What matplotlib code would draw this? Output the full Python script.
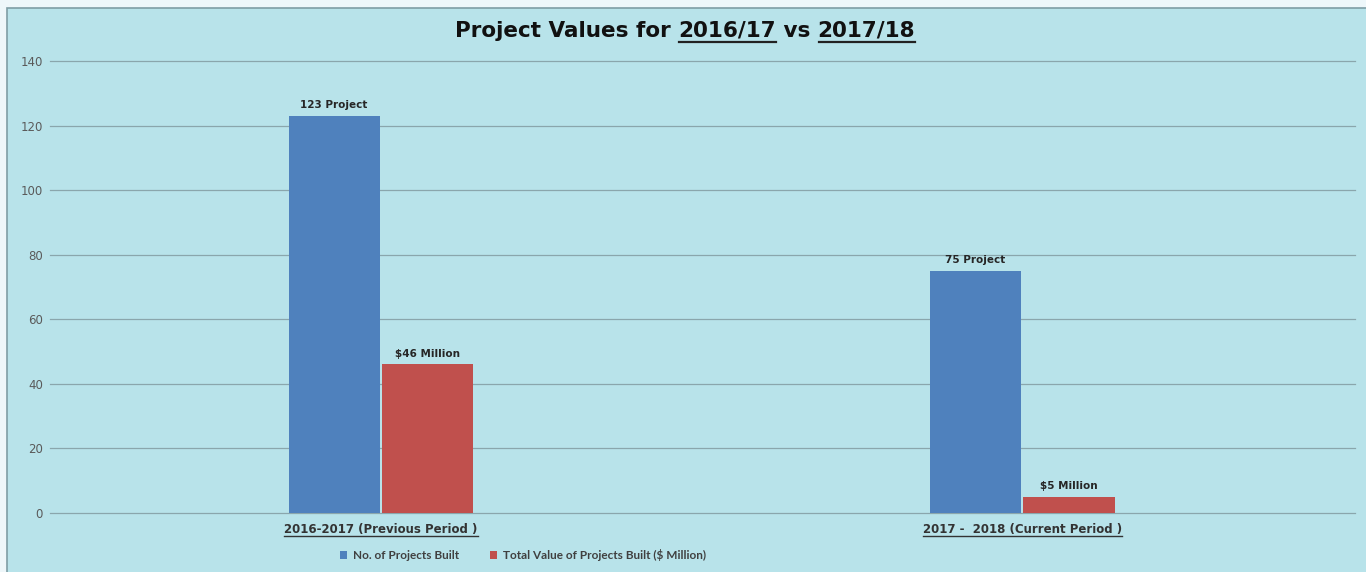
import matplotlib
matplotlib.use("Agg")
import matplotlib.pyplot as plt
from matplotlib.patches import Rectangle
from matplotlib.lines import Line2D
import numpy as np

plt.rcParams['font.family'] = ['DejaVu Sans']

# data
periods = ["2016-2017 (Previous Period )", "2017 -  2018 (Current Period )"]
projects_built = [123, 75]
value_musd = [46, 5]
project_labels = ["123 Project", "75 Project"]
value_labels = [r"\$46 Million", r"\$5 Million"]
series_names = ["No. of Projects Built", "Total Value of Projects Built ($ Million)"]

blue = "#4f81bd"
red = "#c0504d"
bg = "#b8e3ea"
W, H = 1366, 572

fig = plt.figure(figsize=(13.66, 5.72), dpi=100)
fig.patch.set_facecolor("#eef7fa")
# chart area panel behind everything
fig.patches.append(Rectangle((7 / W, -0.01), 1.01 - 7 / W, 1.01 - 8 / H,
                             transform=fig.transFigure, facecolor=bg,
                             edgecolor="#7f9ea5", linewidth=1.2, zorder=-5))

ax = fig.add_axes([50 / W, 59 / H, 1305 / W, 452 / H])
ax.set_facecolor("none")

x = np.arange(len(periods))
w = 0.142
b1 = ax.bar(x - 0.073, projects_built, w, color=blue, label=series_names[0], zorder=3)
b2 = ax.bar(x + 0.073, value_musd, w, color=red, label=series_names[1], zorder=3)

for bars, labs in [(b1, project_labels), (b2, value_labels)]:
    for rect, lab in zip(bars, labs):
        ax.annotate(lab, (rect.get_x() + rect.get_width() / 2, rect.get_height()),
                    xytext=(0, 4), textcoords="offset points", ha="center", va="bottom",
                    fontsize=7.5, fontweight="bold", color="#262626")

ax.set_ylim(0, 140)
ax.set_yticks(range(0, 141, 20))
ax.set_xlim(-0.516, 1.519)
ax.set_xticks(x)
ax.set_xticklabels(periods, fontsize=8.5, fontweight="bold", color="#333333")
ax.tick_params(axis="both", length=0)
ax.tick_params(axis="y", labelsize=8.5, labelcolor="#5a5a5a", pad=5)
ax.tick_params(axis="x", pad=7)
ax.grid(axis="y", color="#8aa6ac", linewidth=0.9, zorder=1)
for gl in ax.get_ygridlines():
    gl.set_clip_on(False)
for s in ax.spines.values():
    s.set_visible(False)

ax.legend(loc="center", bbox_to_anchor=(523 / W, 17 / H), bbox_transform=fig.transFigure,
          ncol=2, frameon=False, handlelength=0.6, handleheight=0.6, handletextpad=0.5,
          columnspacing=2.6, prop={"family": "Lato", "weight": "bold", "size": 8.5},
          labelcolor="#404040")

# title built from pieces so that the years can be underlined
pieces = [("Project Values for ", False), ("2016/17", True), (" vs ", False), ("2017/18", True)]
fig.canvas.draw()
r = fig.canvas.get_renderer()
base_y = H - 37
texts = []
for s, u in pieces:
    t = fig.text(0, base_y / H, s, fontsize=15.5, fontweight="bold", color="#111111",
                 va="baseline", ha="left")
    texts.append((t, u))
widths = [t.get_window_extent(r).width for t, _ in texts]
total = sum(widths)
start = 685 - total / 2
for (t, u), wd in zip(texts, widths):
    t.set_x(start / W)
    start += wd

def hline(x0, x1, y, lw, color):
    fig.lines.append(Line2D([x0 / W, x1 / W], [y / H, y / H], transform=fig.transFigure,
                            color=color, linewidth=lw))

fig.canvas.draw()
for t, u in texts:
    if u:
        bb = t.get_window_extent(r)
        hline(bb.x0 + 1, bb.x1, base_y - 5, 1.6, "#222222")
for lab in ax.get_xticklabels():
    bb = lab.get_window_extent(r)
    hline(bb.x0, bb.x1, bb.y0 - 0.5, 1.0, "#333333")

fig.savefig("out.png", dpi=100, facecolor=fig.get_facecolor())
